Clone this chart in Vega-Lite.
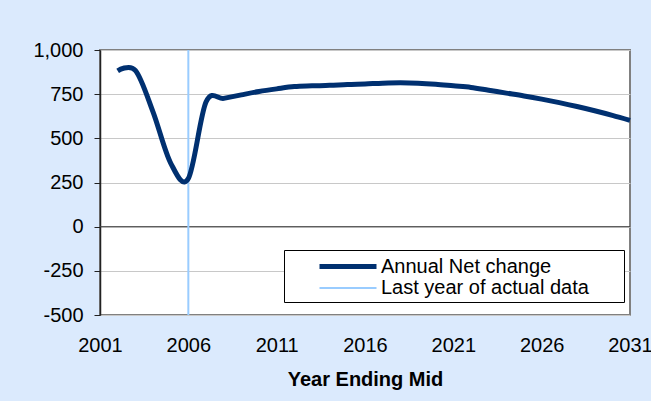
{
  "$schema": "https://vega.github.io/schema/vega-lite/v6.json",
  "autosize": "none",
  "width": 530,
  "height": 265,
  "padding": {"left": 100, "top": 50, "right": 21, "bottom": 86},
  "background": "#DBEAFD",
  "config": {
    "font": "Liberation Sans",
    "locale": {"number": {"decimal": ".", "thousands": ",", "grouping": [3], "currency": ["$", ""], "minus": "-"}},
    "view": {"fill": "white", "stroke": "#808080", "strokeWidth": 2},
    "axis": {"labelFont": "Liberation Sans", "labelFontSize": 20, "labelColor": "black", "titleFont": "Liberation Sans", "titleColor": "black"}
  },
  "datasets": {
    "series": [
      {"year": 2002, "value": 882, "series": "Annual Net change"},
      {"year": 2003, "value": 885, "series": "Annual Net change"},
      {"year": 2004, "value": 650, "series": "Annual Net change"},
      {"year": 2005, "value": 360, "series": "Annual Net change"},
      {"year": 2006, "value": 272, "series": "Annual Net change"},
      {"year": 2007, "value": 705, "series": "Annual Net change"},
      {"year": 2008, "value": 726, "series": "Annual Net change"},
      {"year": 2009, "value": 746, "series": "Annual Net change"},
      {"year": 2010, "value": 765, "series": "Annual Net change"},
      {"year": 2011, "value": 780, "series": "Annual Net change"},
      {"year": 2012, "value": 793, "series": "Annual Net change"},
      {"year": 2013, "value": 797, "series": "Annual Net change"},
      {"year": 2014, "value": 800, "series": "Annual Net change"},
      {"year": 2015, "value": 805, "series": "Annual Net change"},
      {"year": 2016, "value": 808, "series": "Annual Net change"},
      {"year": 2017, "value": 812, "series": "Annual Net change"},
      {"year": 2018, "value": 814, "series": "Annual Net change"},
      {"year": 2019, "value": 812, "series": "Annual Net change"},
      {"year": 2020, "value": 806, "series": "Annual Net change"},
      {"year": 2021, "value": 797, "series": "Annual Net change"},
      {"year": 2022, "value": 788, "series": "Annual Net change"},
      {"year": 2023, "value": 772, "series": "Annual Net change"},
      {"year": 2024, "value": 756, "series": "Annual Net change"},
      {"year": 2025, "value": 740, "series": "Annual Net change"},
      {"year": 2026, "value": 722, "series": "Annual Net change"},
      {"year": 2027, "value": 702, "series": "Annual Net change"},
      {"year": 2028, "value": 680, "series": "Annual Net change"},
      {"year": 2029, "value": 656, "series": "Annual Net change"},
      {"year": 2030, "value": 630, "series": "Annual Net change"},
      {"year": 2031, "value": 602, "series": "Annual Net change"}
    ],
    "marker": [
      {"year": 2006, "series": "Last year of actual data"}
    ],
    "zero": [
      {"value": 0}
    ]
  },
  "layer": [
    {
      "data": {"name": "zero"},
      "mark": {"type": "rule", "color": "#404040", "strokeWidth": 1},
      "encoding": {
        "y": {"field": "value", "type": "quantitative", "scale": {"domain": [-500, 1000], "nice": false}}
      }
    },
    {
      "data": {"name": "marker"},
      "mark": {"type": "rule"},
      "encoding": {
        "x": {"field": "year", "type": "quantitative"},
        "color": {"field": "series", "type": "nominal"},
        "strokeWidth": {"field": "series", "type": "nominal"}
      }
    },
    {
      "data": {"name": "series"},
      "mark": {"type": "line", "interpolate": "cardinal"},
      "encoding": {
        "x": {
          "field": "year", "type": "quantitative",
          "scale": {"domain": [2001, 2031], "nice": false, "zero": false},
          "axis": {"values": [2001, 2006, 2011, 2016, 2021, 2026, 2031], "format": "d", "grid": false, "domain": false, "ticks": false, "labelPadding": 20, "labelFlush": false, "labelOverlap": false, "title": "Year Ending Mid", "titleFontSize": 20, "titleFontWeight": "bold", "titlePadding": 14}
        },
        "y": {
          "field": "value", "type": "quantitative",
          "scale": {"domain": [-500, 1000], "nice": false},
          "axis": {"values": [-500, -250, 0, 250, 500, 750, 1000], "format": ",.0f", "title": null, "grid": true, "gridColor": "#C8C8C8", "gridWidth": 1, "domainColor": "#222222", "domainWidth": 1.5, "tickColor": "#222222", "tickSize": 6, "labelPadding": 11}
        },
        "color": {
          "field": "series", "type": "nominal",
          "scale": {"domain": ["Annual Net change", "Last year of actual data"], "range": ["#003070", "#99CCFF"]},
          "legend": {"orient": "none", "legendX": 184, "legendY": 200, "title": " ", "titleOrient": "right", "titleFontSize": 10, "titlePadding": 31, "symbolType": "M-2.85,0H2.85", "symbolSize": 400, "labelFontSize": 20, "labelFont": "Liberation Sans", "labelColor": "black", "labelOffset": 20.5, "labelLimit": 400, "padding": 4, "symbolOffset": 47.5, "strokeColor": "black", "fillColor": "white", "rowPadding": 0}
        },
        "strokeWidth": {
          "field": "series", "type": "nominal",
          "scale": {"domain": ["Annual Net change", "Last year of actual data"], "range": [5, 2]}
        }
      }
    }
  ]
}
